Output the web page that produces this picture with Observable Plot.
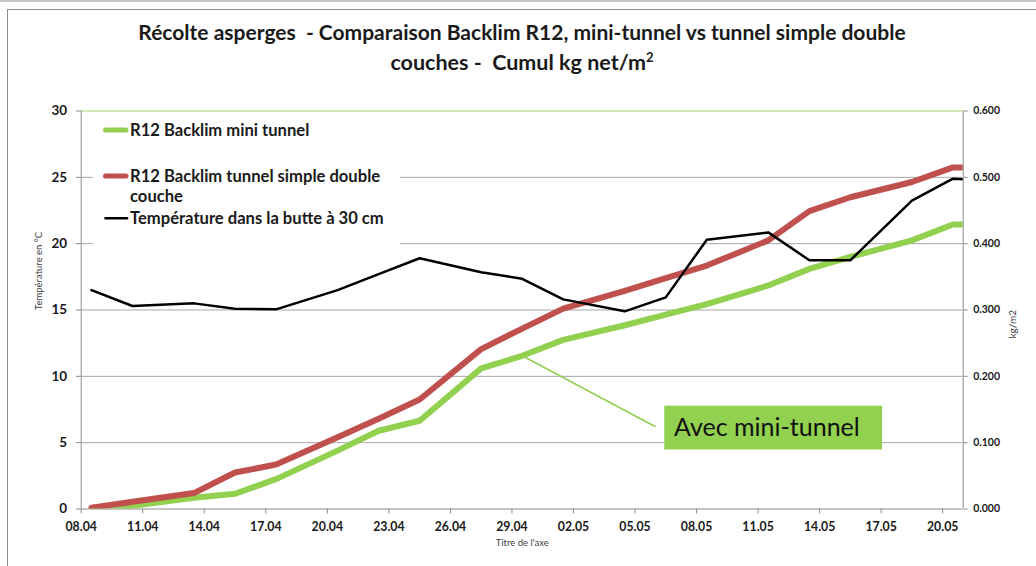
<!DOCTYPE html>
<html><head><meta charset="utf-8">
<script src="https://cdn.jsdelivr.net/npm/d3@7"></script>
<script src="https://cdn.jsdelivr.net/npm/@observablehq/plot@0.6"></script>
<style>
body{margin:0;background:#fff;font-family:Lato,"DejaVu Sans",sans-serif;}
#wrap{position:relative;width:1036px;height:566px;overflow:hidden;background:#fff;}
#topband{position:absolute;left:0;top:0;width:1036px;height:2px;background:#c4c4c4;}
#border{position:absolute;left:7px;top:9px;width:1060px;height:600px;border:1px solid #8c8c8c;}
#chart{position:absolute;left:0;top:0;}
#title{position:absolute;left:4px;top:17px;width:1036px;text-align:center;font-weight:bold;font-size:21px;line-height:30px;color:#1a1a1a;}
#title .l2{font-size:21.5px;}
#title sup{font-size:13px;line-height:0;}
#legend{position:absolute;left:93px;top:112px;}
</style></head>
<body>
<div id="wrap">
<div id="topband"></div>
<div id="border"></div>
<div id="chart"></div>
<div id="title">Récolte asperges&nbsp; - Comparaison Backlim R12, mini-tunnel vs tunnel simple double<br><span class="l2">couches - &nbsp;Cumul kg net/m<sup>2</sup></span></div>
<svg id="legend" width="307" height="136" font-family="Lato, sans-serif" font-weight="bold" font-size="16.6" fill="#1a1a1a">
<rect width="307" height="136" fill="#fff"/>
<line x1="12.5" x2="33" y1="18" y2="18" stroke="#92d050" stroke-width="5" stroke-linecap="round"/>
<text x="37" y="23.7">R12 Backlim mini tunnel</text>
<line x1="12.5" x2="33" y1="64" y2="64" stroke="#c0504d" stroke-width="5" stroke-linecap="round"/>
<text x="37" y="69.7">R12 Backlim tunnel simple double</text>
<text x="37" y="89.7">couche</text>
<line x1="12.5" x2="34" y1="106.3" y2="106.3" stroke="#000" stroke-width="2.5" stroke-linecap="round"/>
<text x="37" y="112.3">Température dans la butte à 30 cm</text>
</svg>
</div>
<script>
// ---- data ----
const dates = ["08.04","10.04","13.04","15.04","17.04","20.04","22.04","24.04","27.04","29.04","01.05","04.05","06.05","08.05","11.05","13.05","15.05","18.05","20.05","21.05"];
const miniTunnel = [0,0.005,0.017,0.023,0.045,0.088,0.118,0.133,0.212,0.231,0.255,0.277,0.293,0.309,0.337,0.362,0.380,0.405,0.429,0.429];
const tunnelSimple = [0.002,0.011,0.024,0.055,0.067,0.108,0.136,0.165,0.241,0.272,0.302,0.329,0.348,0.367,0.405,0.449,0.470,0.493,0.515,0.515];
const temperature = [16.5,15.3,15.5,15.1,15.05,16.5,17.7,18.9,17.85,17.35,15.8,14.9,15.95,20.3,20.85,18.75,18.75,23.25,24.9,24.8];
const tickLabels = ["08.04","11.04","14.04","17.04","20.04","23.04","26.04","29.04","02.05","05.05","08.05","11.05","14.05","17.05","20.05"];
const tempTicks = [0,5,10,15,20,25,30];
const axisStart = "08.04", axisEnd = "21.05";
const annotationText = "Avec mini-tunnel";
const annotationPoint = "29.04";

// ---- helpers ----
const YEAR = 2013;
const parse = s => { const [dd, mm] = s.split("."); return new Date(Date.UTC(YEAR, +mm - 1, +dd)); };
const DAY = 86400000;
const mid = d => new Date(+d + DAY / 2);        // points sit in the middle of their day
const KG = 50;                                   // 0.6 kg/m2 <-> 30 °C on the shared y scale

const rows = dates.map((s, i) => ({date: parse(s), mini: miniTunnel[i], simple: tunnelSimple[i], temp: temperature[i]}));
const x0 = parse(axisStart), x1 = parse(axisEnd);
const ap = rows[dates.indexOf(annotationPoint)];
const annot = {
  from: {x: mid(ap.date), y: ap.mini * KG},
  to: {x: new Date(+x0 + 28.0 * DAY), y: 0.124 * KG},
  box: {x1: new Date(+x0 + 28.45 * DAY), x2: new Date(+x0 + 39.07 * DAY), y1: 0.089 * KG, y2: 0.155 * KG},
  text: {x: new Date(+x0 + 28.9 * DAY), y: 0.1225 * KG}
};

const chart = Plot.plot({
  width: 1036, height: 566,
  marginLeft: 80.7, marginRight: 73.3, marginTop: 110.5, marginBottom: 57.5,
  style: {fontFamily: "Lato, sans-serif", background: "transparent", color: "#1a1a1a", overflow: "visible"},
  x: {type: "utc", domain: [x0, x1]},
  y: {domain: [0, 30]},
  marks: [
    Plot.ruleY([5, 10, 15, 20, 25], {stroke: "#a6a6a6", strokeWidth: 1}),
    Plot.ruleY([30], {stroke: "#a6d86b", strokeWidth: 1.2}),
    Plot.ruleY([0], {stroke: "#8c8c8c", strokeWidth: 1}),
    Plot.ruleX([x0], {y1: 0, y2: 30, stroke: "#8c8c8c", strokeWidth: 1}),
    Plot.ruleX([x1], {y1: 0, y2: 30, stroke: "#8c8c8c", strokeWidth: 1}),
    Plot.axisY({anchor: "left", ticks: tempTicks, tickSize: 5, tickPadding: 9, fontSize: 13.5, fontWeight: "bold", label: null, stroke: "#8c8c8c"}),
    Plot.axisY({anchor: "right", ticks: tempTicks, tickSize: 4, tickPadding: 6, fontSize: 10.5, fontWeight: "bold", label: null, stroke: "#8c8c8c",
      tickFormat: d => (d / KG).toFixed(3)}),
    Plot.axisX({ticks: tickLabels.map(parse), tickFormat: d3.utcFormat("%d.%m"), tickSize: 5, tickPadding: 8, fontSize: 12.3, fontWeight: "bold", label: null, stroke: "#8c8c8c"}),
    Plot.text(["Température en °C"], {frameAnchor: "left", dx: -42, rotate: -90, fontSize: 9.5, fill: "#404040"}),
    Plot.text(["kg/m2"], {frameAnchor: "right", dx: 50, rotate: -90, fontSize: 10, fill: "#404040"}),
    Plot.text(["Titre de l'axe"], {frameAnchor: "bottom", dy: 37, fontSize: 9.5, fill: "#404040"}),
    Plot.line(rows, {x: d => mid(d.date), y: d => d.mini * KG, stroke: "#92d050", strokeWidth: 6, strokeLinejoin: "round", strokeLinecap: "round", clip: true}),
    Plot.line(rows, {x: d => mid(d.date), y: d => d.simple * KG, stroke: "#c0504d", strokeWidth: 6, strokeLinejoin: "round", strokeLinecap: "round", clip: true}),
    Plot.line(rows, {x: d => mid(d.date), y: "temp", stroke: "#000", strokeWidth: 2.5, strokeLinejoin: "round", clip: true}),
    Plot.link([annot], {x1: d => d.from.x, y1: d => d.from.y, x2: d => d.to.x, y2: d => d.to.y, stroke: "#92d050", strokeWidth: 1.5}),
    Plot.rect([annot], {x1: d => d.box.x1, x2: d => d.box.x2, y1: d => d.box.y1, y2: d => d.box.y2, fill: "#92d050"}),
    Plot.text([annot], {x: d => d.text.x, y: d => d.text.y, text: () => annotationText, textAnchor: "start", fontSize: 25, fill: "#111", fontFamily: "Lato, sans-serif"})
  ]
});
document.getElementById("chart").appendChild(chart);
</script>
</body></html>
